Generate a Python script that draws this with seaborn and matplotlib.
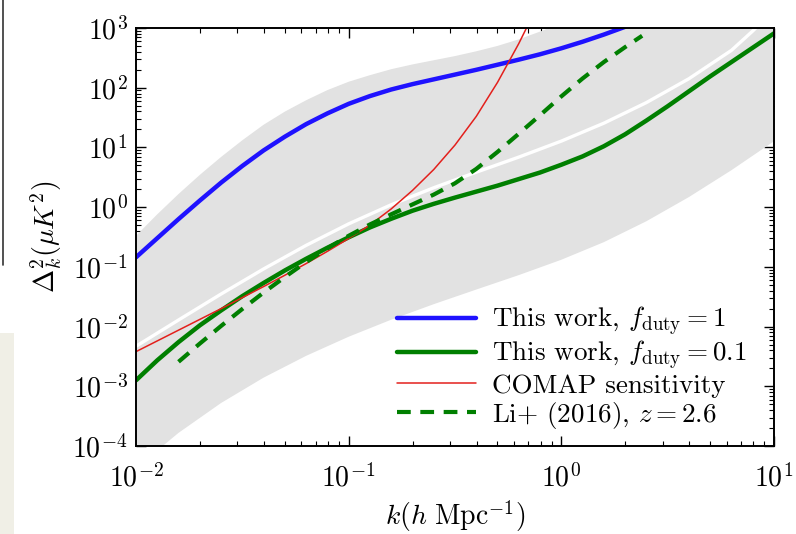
import numpy as np
import pandas as pd
import seaborn as sns
import matplotlib
matplotlib.use("Agg")
import matplotlib.pyplot as plt
from matplotlib.patches import Rectangle
from matplotlib.lines import Line2D

# ---------------- data (log10 values) ----------------
blue_logk = [-2.0, -1.9, -1.8, -1.7, -1.6, -1.5, -1.4, -1.3, -1.2, -1.1, -1.0, -0.9, -0.8,
             -0.7, -0.6, -0.5, -0.4, -0.3, -0.2, -0.1, 0.0, 0.1, 0.2, 0.3]
blue_logy = [-0.84, -0.52, -0.20, 0.11, 0.41, 0.69, 0.95, 1.18, 1.39, 1.57, 1.73, 1.86, 1.97,
             2.06, 2.14, 2.22, 2.30, 2.385, 2.47, 2.56, 2.66, 2.77, 2.89, 3.02]

green_logk = [-2.0, -1.9, -1.8, -1.7, -1.6, -1.5, -1.4, -1.3, -1.2, -1.1, -1.0, -0.9, -0.8,
              -0.7, -0.6, -0.5, -0.4, -0.3, -0.2, -0.1, 0.0, 0.1, 0.2, 0.3, 0.4, 0.5,
              0.6, 0.7, 0.8, 0.9, 1.0]
green_logy = [-2.90, -2.565, -2.26, -1.98, -1.73, -1.49, -1.27, -1.06, -0.865, -0.68, -0.505,
              -0.34, -0.195, -0.06, 0.055, 0.16, 0.26, 0.36, 0.47, 0.58, 0.71, 0.85, 1.02,
              1.22, 1.45, 1.69, 1.94, 2.19, 2.43, 2.67, 2.91]

red_logk = [-2.0, -1.9, -1.8, -1.7, -1.6, -1.5, -1.4, -1.3, -1.2, -1.1, -1.0, -0.9, -0.8,
            -0.7, -0.6, -0.5, -0.4, -0.3, -0.2, -0.1]
red_logy = [-2.42, -2.24, -2.06, -1.88, -1.70, -1.515, -1.33, -1.14, -0.945, -0.74, -0.525,
            -0.30, -0.03, 0.28, 0.63, 1.04, 1.52, 2.09, 2.74, 3.46]

li_logk = [-1.8, -1.7, -1.6, -1.5, -1.4, -1.3, -1.2, -1.1, -1.0, -0.9, -0.8, -0.7, -0.6,
           -0.5, -0.4, -0.3, -0.2, -0.1, 0.0, 0.1, 0.2, 0.3, 0.38]
li_logy = [-2.59, -2.285, -1.99, -1.705, -1.43, -1.17, -0.92, -0.69, -0.48, -0.29, -0.12,
           0.045, 0.21, 0.40, 0.64, 0.925, 1.23, 1.54, 1.855, 2.155, 2.43, 2.68, 2.87]

white_logk = [-2.0, -1.8, -1.6, -1.4, -1.2, -1.0, -0.8, -0.6, -0.4, -0.2, 0.0, 0.2, 0.4,
              0.6, 0.8, 0.9, 1.0]
white_logy = [-2.33, -1.89, -1.455, -1.035, -0.64, -0.28, 0.04, 0.325, 0.585, 0.838, 1.106,
              1.406, 1.751, 2.151, 2.626, 2.95, 3.3]

band_up_logk = [-2.0, -1.9, -1.8, -1.7, -1.6, -1.5, -1.4, -1.3, -1.2, -1.1, -1.0, -0.9, -0.8,
                -0.7, -0.6, -0.5, -0.4, -0.3, -0.2, -0.1, 0.0, 0.1, 1.0]
band_up_logy = [-0.48, -0.12, 0.22, 0.54, 0.84, 1.12, 1.38, 1.60, 1.79, 1.96, 2.10, 2.21, 2.31,
                2.39, 2.46, 2.53, 2.61, 2.70, 2.81, 2.94, 3.08, 3.22, 3.5]
band_lo_logk = [-2.0, -1.8, -1.6, -1.4, -1.2, -1.0, -0.8, -0.6, -0.4, -0.2, 0.0, 0.2, 0.4,
                0.6, 0.8, 1.0]
band_lo_logy = [-4.37, -3.78, -3.28, -2.855, -2.49, -2.17, -1.885, -1.625, -1.38, -1.138,
                -0.881, -0.586, -0.236, 0.169, 0.619, 1.104]

labels = [r"This work, $f_{\rm duty} = 1$",
          r"This work, $f_{\rm duty} = 0.1$",
          r"COMAP sensitivity",
          r"Li+ (2016), $z = 2.6$"]

# ---------------- style ----------------
sns.set_theme(style="white")
plt.rcParams.update({
    "font.family": "serif",
    "font.serif": ["cmr10", "DejaVu Serif"],
    "mathtext.fontset": "cm",
    "axes.formatter.use_mathtext": True,
    "axes.unicode_minus": False,
    "axes.edgecolor": "black",
    "axes.linewidth": 1.4,
    "xtick.direction": "in",
    "ytick.direction": "in",
    "xtick.top": True,
    "ytick.right": True,
    "xtick.bottom": True,
    "ytick.left": True,
    "xtick.color": "black",
    "ytick.color": "black",
    "text.color": "black",
    "axes.labelcolor": "black",
})

fig = plt.figure(figsize=(7.96, 5.34), dpi=100)
fig.patch.set_facecolor("white")
# screenshot surroundings
fig.patches.append(Rectangle((0, 0), 14 / 796, 1 - 333 / 534, transform=fig.transFigure,
                             facecolor="#f0efe6", edgecolor="none", zorder=0))
fig.add_artist(Line2D([3 / 796, 3 / 796], [1 - 265 / 534, 1.0], transform=fig.transFigure,
                      color="#333333", lw=1.2))

ax = fig.add_axes([136 / 796, 1 - 446 / 534, 638 / 796, 418 / 534])
ax.set_xscale("log")
ax.set_yscale("log")

def p10(a):
    return 10.0 ** np.asarray(a, dtype=float)

# grey band (polygon: upper edge forward, lower edge reversed)
poly_k = np.concatenate([p10(band_up_logk), p10(band_lo_logk)[::-1]])
poly_y = np.concatenate([p10(band_up_logy), p10(band_lo_logy)[::-1]])
ax.fill(poly_k, poly_y, color="#e2e2e2", lw=0, zorder=1)

# white gap line
sns.lineplot(x=p10(white_logk), y=p10(white_logy), ax=ax, color="white", lw=2.4, zorder=2)

sns.lineplot(x=p10(blue_logk), y=p10(blue_logy), ax=ax, color="#1f12ff", lw=3.2, zorder=3)
sns.lineplot(x=p10(green_logk), y=p10(green_logy), ax=ax, color="#007f00", lw=3.2, zorder=3)
sns.lineplot(x=p10(red_logk), y=p10(red_logy), ax=ax, color="#e3201c", lw=1.1, zorder=4)
sns.lineplot(x=p10(li_logk), y=p10(li_logy), ax=ax, color="#007f00", lw=3.0, zorder=5)
li_line = ax.lines[-1]
li_line.set_dashes((3.3, 2.3))

ax.set_xlim(1e-2, 1e1)
ax.set_ylim(1e-4, 1e3)

ax.xaxis.set_major_locator(matplotlib.ticker.LogLocator(base=10, numticks=10))
ax.yaxis.set_major_locator(matplotlib.ticker.LogLocator(base=10, numticks=10))
ax.xaxis.set_minor_locator(matplotlib.ticker.LogLocator(base=10, subs=np.arange(2, 10), numticks=20))
ax.yaxis.set_minor_locator(matplotlib.ticker.LogLocator(base=10, subs=np.arange(2, 10), numticks=20))
ax.tick_params(which="major", length=7, width=1.0, labelsize=20)
ax.tick_params(axis="x", which="major", pad=13)
ax.tick_params(axis="y", which="major", pad=6)
ax.tick_params(which="minor", length=3.5, width=0.8)

ax.set_xlabel(r"$k(h\ {\rm Mpc}^{-1})$", fontsize=20, labelpad=4)
ax.set_ylabel(r"$\Delta_k^2(\mu K^2)$", fontsize=20, labelpad=6)

handles = ax.lines[1:5]
leg = ax.legend(handles, labels, loc="lower right", frameon=False, fontsize=19.5,
                handlelength=2.9, handletextpad=0.6, labelspacing=0.06,
                borderaxespad=0.0, borderpad=0.2,
                bbox_to_anchor=(1 - 22 / 638, 10 / 418))

for sp in ax.spines.values():
    sp.set_zorder(10)

fig.savefig("out.png", dpi=100)
